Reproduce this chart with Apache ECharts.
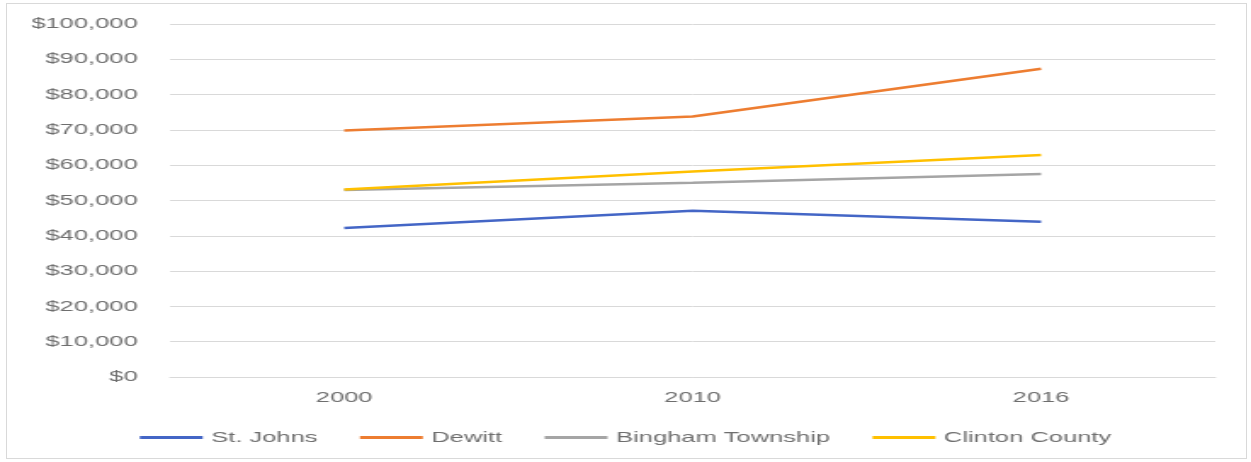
<!DOCTYPE html>
<html>
<head>
<meta charset="utf-8">
<script src="https://cdn.jsdelivr.net/npm/echarts@6/dist/echarts.min.js"></script>
<style>
  html, body { margin: 0; padding: 0; background: #fff; overflow: hidden; }
  #frame { position: absolute; left: 6px; top: 3px; width: 1241px; height: 456px; border: 1px solid #d9d9d9; box-sizing: border-box; }
  /* The chart is laid out at a narrow width and widened to the full page. */
  #chart { position: absolute; left: 0; top: 0; width: 736px; height: 462px; transform: scaleX(1.6997); transform-origin: 0 0; }
</style>
</head>
<body>
<div id="frame"></div>
<div id="chart"></div>
<script>
// Median household income by place, census years
const years = ['2000', '2010', '2016'];
const stJohns = [42200, 47100, 44000];
const dewitt = [69800, 73800, 87300];
const bingham = [53000, 55000, 57500];
const clintonCounty = [53100, 58200, 62900];

const seriesNames = ['St. Johns', 'Dewitt', 'Bingham Township', 'Clinton County'];
const seriesData = [stJohns, dewitt, bingham, clintonCounty];
const seriesColors = ['#4466C6', '#ED7D31', '#A5A5A5', '#FFC000'];

const chart = echarts.init(document.getElementById('chart'), null, { renderer: 'canvas' });

const fontFamily = '"Liberation Sans", Arial, sans-serif';
const textColor = '#6e6e6e';

chart.setOption({
  animation: false,
  backgroundColor: 'transparent',
  grid: { left: 100, right: 21, top: 24, bottom: 85, containLabel: false },
  xAxis: {
    type: 'category',
    data: years,
    boundaryGap: true,
    axisLine: { show: true, lineStyle: { color: '#d9d9d9' } },
    axisTick: { show: false },
    axisLabel: { color: textColor, fontSize: 15, fontFamily: fontFamily, margin: 13 },
    splitLine: { show: false }
  },
  yAxis: {
    type: 'value',
    min: 0,
    max: 100000,
    interval: 10000,
    axisLine: { show: false },
    axisTick: { show: false },
    axisLabel: {
      color: textColor,
      fontSize: 15,
      fontFamily: fontFamily,
      margin: 19,
      formatter: v => '$' + v.toLocaleString('en-US')
    },
    splitLine: { show: true, lineStyle: { color: '#d9d9d9', width: 1 } }
  },
  legend: {
    top: 425,
    left: 'center',
    icon: 'rect',
    itemWidth: 37,
    itemHeight: 3,
    itemGap: 25,
    textStyle: { color: textColor, fontSize: 15, fontFamily: fontFamily },
    data: seriesNames
  },
  series: seriesNames.map((name, i) => ({
    name: name,
    type: 'line',
    data: seriesData[i],
    symbol: 'none',
    smooth: false,
    color: seriesColors[i],
    lineStyle: { width: 2.5, color: seriesColors[i] }
  }))
});
</script>
</body>
</html>
